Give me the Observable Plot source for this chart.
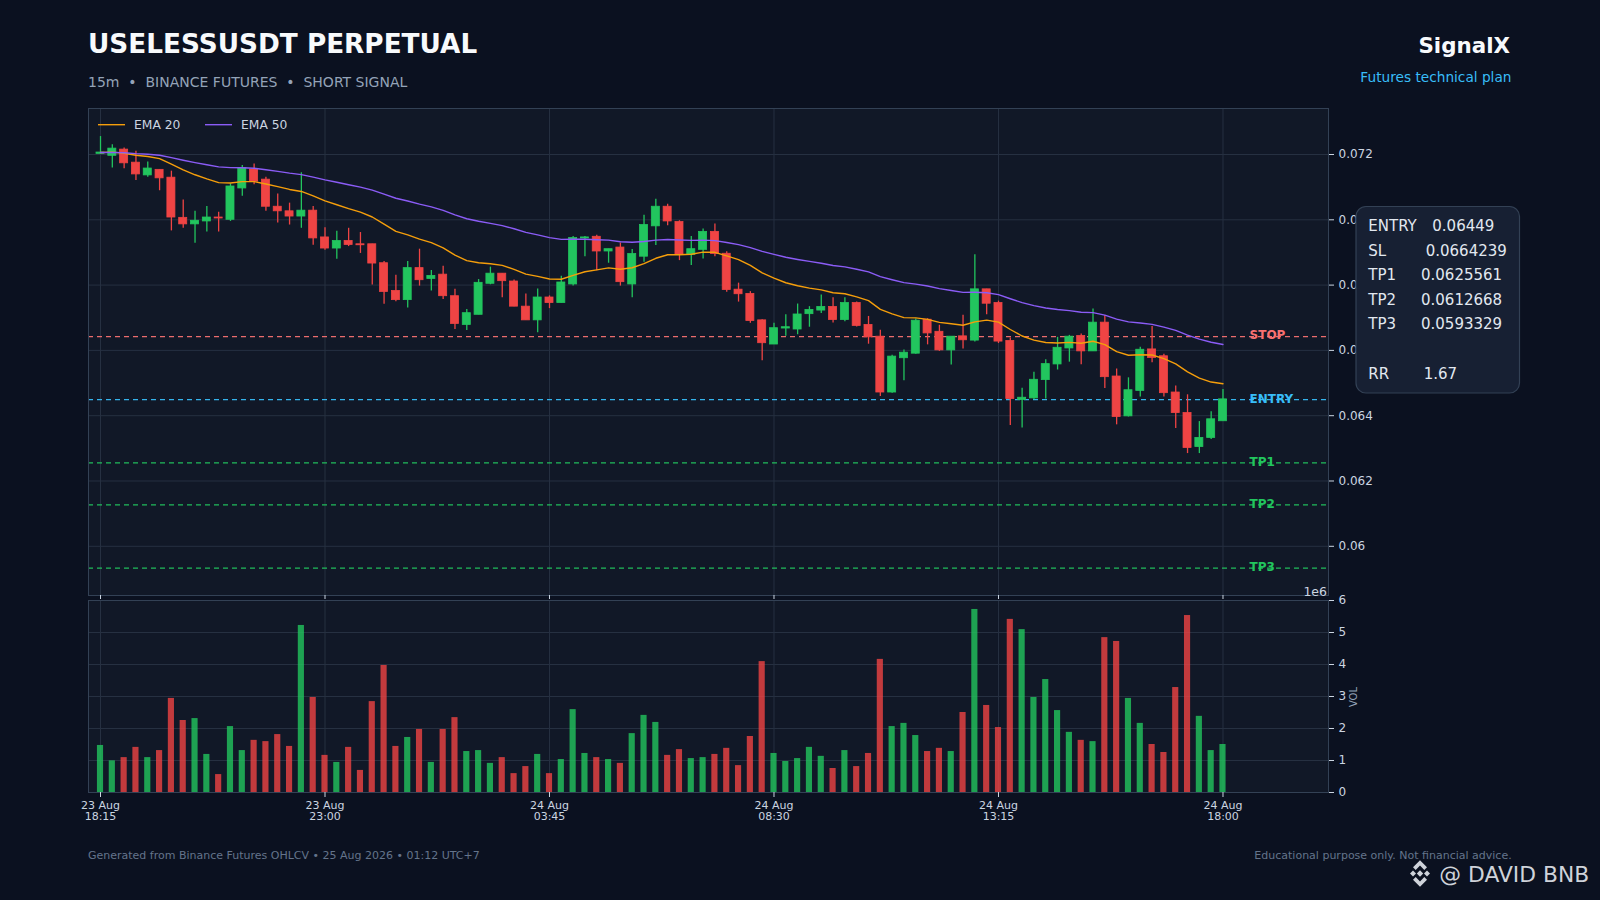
<!DOCTYPE html>
<html>
<head>
<meta charset="utf-8">
<script src="https://cdn.jsdelivr.net/npm/d3@7"></script>
<script src="https://cdn.jsdelivr.net/npm/@observablehq/plot@0.6"></script>
<style>
  html, body { margin: 0; padding: 0; background: #0b1120; }
  #page { position: relative; width: 1600px; height: 900px; background: #0b1120; overflow: hidden; font-family: "DejaVu Sans", sans-serif; }
  .layer { position: absolute; left: 0; }
  #overlay { position: absolute; left: 0; top: 0; pointer-events: none; }
</style>
</head>
<body>
<div id="page">
  <div id="price" class="layer" style="top:100px"></div>
  <div id="volume" class="layer" style="top:595px"></div>
  <svg id="overlay" width="1600" height="900" font-family="DejaVu Sans, sans-serif"></svg>
</div>
<script>
// ---- data ----
const opens  = [0.07202,0.07196,0.07215,0.07175,0.07136,0.07153,0.07129,0.07006,0.06986,0.06995,
                0.07007,0.07000,0.07096,0.07154,0.07123,0.07040,0.07026,0.07010,0.07028,0.06946,
                0.06912,0.06935,0.06925,0.06925,0.06867,0.06782,0.06754,0.06852,0.06819,0.06832,
                0.06766,0.06678,0.06709,0.06804,0.06835,0.06811,0.06734,0.06692,0.06762,0.06745,
                0.06802,0.06943,0.06948,0.06903,0.06915,0.06802,0.06887,0.06980,0.07040,0.06993,
                0.06892,0.06908,0.06963,0.06896,0.06786,0.06773,0.06692,0.06618,0.06667,0.06664,
                0.06711,0.06722,0.06733,0.06693,0.06745,0.06678,0.06642,0.06471,0.06576,0.06590,
                0.06694,0.06657,0.06600,0.06643,0.06630,0.06787,0.06745,0.06629,0.06448,0.06453,
                0.06509,0.06557,0.06606,0.06644,0.06597,0.06685,0.06520,0.06398,0.06476,0.06603,
                0.06582,0.06471,0.06408,0.06304,0.06332,0.06383];
const highs  = [0.07255,0.07230,0.07220,0.07210,0.07177,0.07153,0.07149,0.07061,0.07026,0.07041,
                0.07023,0.07110,0.07166,0.07171,0.07130,0.07079,0.07051,0.07144,0.07041,0.06976,
                0.06965,0.06974,0.06961,0.06925,0.06872,0.06830,0.06872,0.06910,0.06845,0.06858,
                0.06787,0.06725,0.06817,0.06855,0.06835,0.06816,0.06773,0.06788,0.06767,0.06827,
                0.06949,0.06949,0.06953,0.06910,0.06929,0.06909,0.07014,0.07063,0.07048,0.06997,
                0.06949,0.06972,0.06987,0.06902,0.06806,0.06780,0.06694,0.06683,0.06709,0.06742,
                0.06734,0.06770,0.06761,0.06761,0.06748,0.06704,0.06662,0.06585,0.06601,0.06696,
                0.06697,0.06677,0.06642,0.06708,0.06893,0.06787,0.06751,0.06638,0.06484,0.06533,
                0.06571,0.06640,0.06646,0.06650,0.06727,0.06707,0.06543,0.06516,0.06610,0.06673,
                0.06588,0.06491,0.06464,0.06382,0.06412,0.06480];
const lows   = [0.07200,0.07159,0.07156,0.07120,0.07130,0.07089,0.06966,0.06974,0.06928,0.06963,
                0.06963,0.06995,0.07072,0.07107,0.07026,0.06990,0.06984,0.06974,0.06922,0.06907,
                0.06879,0.06918,0.06897,0.06800,0.06741,0.06749,0.06730,0.06797,0.06782,0.06756,
                0.06664,0.06661,0.06709,0.06801,0.06761,0.06734,0.06692,0.06654,0.06728,0.06745,
                0.06797,0.06887,0.06844,0.06867,0.06797,0.06761,0.06870,0.06921,0.06982,0.06875,
                0.06860,0.06880,0.06887,0.06778,0.06748,0.06683,0.06568,0.06618,0.06643,0.06648,
                0.06671,0.06713,0.06684,0.06688,0.06672,0.06619,0.06459,0.06469,0.06507,0.06588,
                0.06617,0.06597,0.06555,0.06604,0.06626,0.06709,0.06621,0.06370,0.06362,0.06449,
                0.06451,0.06540,0.06564,0.06556,0.06597,0.06483,0.06372,0.06396,0.06457,0.06562,
                0.06457,0.06361,0.06284,0.06284,0.06327,0.06383];
const closes = [0.07206,0.07218,0.07173,0.07139,0.07157,0.07127,0.07007,0.06986,0.06997,0.07007,
                0.07004,0.07102,0.07158,0.07117,0.07040,0.07026,0.07010,0.07028,0.06943,0.06912,
                0.06935,0.06923,0.06922,0.06866,0.06779,0.06754,0.06852,0.06815,0.06828,0.06766,
                0.06681,0.06714,0.06807,0.06835,0.06812,0.06734,0.06692,0.06762,0.06745,0.06808,
                0.06944,0.06946,0.06903,0.06910,0.06809,0.06895,0.06984,0.07040,0.06995,0.06892,
                0.06910,0.06963,0.06895,0.06785,0.06772,0.06690,0.06622,0.06668,0.06671,0.06710,
                0.06724,0.06733,0.06693,0.06745,0.06675,0.06640,0.06471,0.06581,0.06593,0.06691,
                0.06652,0.06600,0.06642,0.06631,0.06787,0.06743,0.06627,0.06451,0.06455,0.06510,
                0.06558,0.06608,0.06642,0.06597,0.06685,0.06518,0.06396,0.06478,0.06602,0.06577,
                0.06469,0.06408,0.06301,0.06332,0.06389,0.06450];
// volume, in units of 1e6
const volumes = [1.47,0.99,1.09,1.41,1.09,1.31,2.94,2.25,2.31,1.19,
                 0.56,2.06,1.31,1.63,1.59,1.81,1.44,5.22,2.97,1.16,
                 0.94,1.41,0.69,2.84,3.97,1.44,1.72,1.97,0.94,1.97,
                 2.34,1.28,1.31,0.91,1.09,0.59,0.81,1.19,0.59,1.03,
                 2.59,1.22,1.09,1.03,0.91,1.84,2.41,2.19,1.16,1.34,
                 1.06,1.09,1.19,1.38,0.84,1.75,4.09,1.22,0.97,1.06,
                 1.41,1.13,0.75,1.31,0.81,1.22,4.16,2.06,2.16,1.78,
                 1.28,1.38,1.28,2.50,5.72,2.72,2.03,5.41,5.09,2.97,
                 3.53,2.56,1.88,1.63,1.59,4.84,4.72,2.94,2.16,1.50,
                 1.25,3.28,5.53,2.38,1.31,1.50];
const tickIdx    = [0, 19, 38, 57, 76, 95];
const tickLabels = ["23 Aug\n18:15","23 Aug\n23:00","24 Aug\n03:45","24 Aug\n08:30","24 Aug\n13:15","24 Aug\n18:00"];
const priceTicks = [0.060, 0.062, 0.064, 0.066, 0.068, 0.070, 0.072];
const volTicks   = [0, 1, 2, 3, 4, 5, 6];
const levelNames  = ["STOP", "ENTRY", "TP1", "TP2", "TP3"];
const levelValues = [0.0664239, 0.06449, 0.0625561, 0.0612668, 0.0593329];
const levelColors = ["#f87171", "#38bdf8", "#22c55e", "#22c55e", "#22c55e"];
const infoLabels = ["ENTRY", "SL", "TP1", "TP2", "TP3", "RR"];
const infoValues = ["0.06449", "0.0664239", "0.0625561", "0.0612668", "0.0593329", "1.67"];

// ---- derived ----
const UP = "#22c55e", DOWN = "#ef4444";
const candles = opens.map((o, i) => ({i, o, h: highs[i], l: lows[i], c: closes[i], v: volumes[i], up: closes[i] >= o}));
function ema(values, n) {
  const k = 2 / (n + 1); let prev; const out = [];
  values.forEach((v, i) => { prev = i === 0 ? v : v * k + prev * (1 - k); out.push({i, v: prev}); });
  return out;
}
const ema20 = ema(closes, 20), ema50 = ema(closes, 50);
const levels = levelNames.map((name, k) => ({name, value: levelValues[k], color: levelColors[k]}));
const xDomain = [-1.016, 103.93];
const style = "background:transparent;color:#cbd5e1;font-family:'DejaVu Sans',sans-serif;font-size:12px;overflow:visible;";
const grid = "#263041";

const price = Plot.plot({
  width: 1600, height: 500,
  marginTop: 8, marginBottom: 5, marginLeft: 88, marginRight: 272,
  style,
  x: {domain: xDomain, label: null},
  y: {domain: [0.058493, 0.073409], label: null},
  marks: [
    Plot.frame({fill: "#111827", stroke: null}),
    Plot.gridY(priceTicks, {stroke: grid, strokeOpacity: 1}),
    Plot.gridX(tickIdx, {stroke: grid, strokeOpacity: 1}),
    Plot.ruleY(levels, {y: "value", stroke: "color", strokeWidth: 1.3, strokeDasharray: "5,4", strokeOpacity: 0.95}),
    Plot.ruleX(candles, {x: "i", y1: "l", y2: "h", stroke: d => d.up ? UP : DOWN, strokeWidth: 1.3}),
    Plot.rect(candles, {x1: d => d.i - 0.34, x2: d => d.i + 0.34,
      y1: d => Math.min(d.o, d.c), y2: d => Math.max(d.o, d.c),
      fill: d => d.up ? UP : DOWN, stroke: d => d.up ? UP : DOWN, strokeWidth: 0.8}),
    Plot.line(ema20, {x: "i", y: "v", stroke: "#f59e0b", strokeWidth: 1.4}),
    Plot.line(ema50, {x: "i", y: "v", stroke: "#8b5cf6", strokeWidth: 1.4}),
    Plot.text(levels, {x: () => 97.25, y: "value", text: "name", fill: "color", textAnchor: "start",
      fontWeight: "bold", fontSize: 12, dy: -1}),
    Plot.frame({stroke: "#334155"}),
    Plot.axisY({anchor: "right", ticks: priceTicks, tickFormat: d => String(+d.toFixed(3)), tickSize: 5, tickPadding: 5, fontSize: 12, label: null}),
    Plot.axisX({anchor: "bottom", ticks: tickIdx, tickFormat: () => "", tickSize: 4, label: null})
  ]
});
document.getElementById("price").appendChild(price);

const volume = Plot.plot({
  width: 1600, height: 240,
  marginTop: 5, marginBottom: 43, marginLeft: 88, marginRight: 272,
  style,
  x: {domain: xDomain, label: null},
  y: {domain: [0, 6], label: null},
  marks: [
    Plot.frame({fill: "#111827", stroke: null}),
    Plot.gridY(volTicks, {stroke: grid, strokeOpacity: 1}),
    Plot.gridX(tickIdx, {stroke: grid, strokeOpacity: 1}),
    Plot.rect(candles, {x1: d => d.i - 0.26, x2: d => d.i + 0.26, y1: 0, y2: "v",
      fill: d => d.up ? UP : DOWN, fillOpacity: 0.8}),
    Plot.frame({stroke: "#334155"}),
    Plot.axisY({anchor: "right", ticks: volTicks, tickFormat: d => String(d), tickSize: 5, tickPadding: 5, fontSize: 12, label: null}),
    Plot.axisX({anchor: "bottom", ticks: tickIdx, tickFormat: d => tickLabels[tickIdx.indexOf(d)], tickSize: 5, tickPadding: 4, fontSize: 11, lineHeight: 1, label: null})
  ]
});
document.getElementById("volume").appendChild(volume);

// ---- overlay: titles, legend, info box, footer ----
const ov = d3.select("#overlay");
function txt(x, y, s, o = {}) {
  return ov.append("text").attr("x", x).attr("y", y).text(s)
    .attr("font-size", o.size || 12).attr("fill", o.fill || "#cbd5e1")
    .attr("font-weight", o.weight || "normal").attr("text-anchor", o.anchor || "start")
    .style("white-space", "pre").attr("xml:space", "preserve");
}
txt(88, 52.7, "USELESSUSDT PERPETUAL", {size: 26.3, weight: "bold", fill: "#f8fafc"});
txt(88, 86.7, "15m  \u2022  BINANCE FUTURES  \u2022  SHORT SIGNAL", {size: 14, fill: "#94a3b8"});
txt(1510, 53.3, "SignalX", {size: 21.4, weight: "bold", fill: "#f8fafc", anchor: "end"});
txt(1511.5, 82.3, "Futures technical plan", {size: 13.7, fill: "#38bdf8", anchor: "end"});

// legend
ov.append("line").attr("x1", 98).attr("x2", 125).attr("y1", 124.7).attr("y2", 124.7).attr("stroke", "#f59e0b").attr("stroke-width", 1.4);
txt(134, 129.3, "EMA 20", {size: 12.3, fill: "#cbd5e1"});
ov.append("line").attr("x1", 205).attr("x2", 232).attr("y1", 124.7).attr("y2", 124.7).attr("stroke", "#8b5cf6").attr("stroke-width", 1.4);
txt(241, 129.3, "EMA 50", {size: 12.3, fill: "#cbd5e1"});

// info box
ov.append("rect").attr("x", 1356).attr("y", 206.5).attr("width", 163.5).attr("height", 186.5)
  .attr("rx", 10).attr("fill", "#172033").attr("stroke", "#334155").attr("stroke-width", 1.2);
const infoBase = [230.7, 255.7, 280.3, 304.7, 329.3, 378.7];
const infoValX = [1432.3, 1425.7, 1421, 1421, 1421, 1423.7];
infoLabels.forEach((l, k) => {
  txt(1368.3, infoBase[k], l, {size: 15, fill: "#e2e8f0"});
  txt(infoValX[k], infoBase[k], infoValues[k], {size: 15, fill: "#e2e8f0"});
});

// volume axis extras
txt(1327, 596, "1e6", {size: 12.5, fill: "#cbd5e1", anchor: "end"});
ov.append("text").attr("transform", "translate(1357,697) rotate(-90)").attr("text-anchor", "middle")
  .attr("font-size", 10).attr("fill", "#94a3b8").text("VOL");

// footer
txt(88, 859.3, "Generated from Binance Futures OHLCV \u2022 25 Aug 2026 \u2022 01:12 UTC+7", {size: 11, fill: "#64748b"});
txt(1511.7, 859.3, "Educational purpose only. Not financial advice.", {size: 11, fill: "#64748b", anchor: "end"});

// watermark
const logo = ov.append("g").attr("transform", "translate(1420,873.5)").attr("fill", "#cfd3da");
logo.append("path").attr("d", "M0,-3.2 L3.2,0 L0,3.2 L-3.2,0 Z");
logo.append("path").attr("d", "M-10,0 L-7,-3 L-4,0 L-7,3 Z");
logo.append("path").attr("d", "M10,0 L7,-3 L4,0 L7,3 Z");
logo.append("path").attr("d", "M0,-13.3 L7,-6.3 L4.3,-3.6 L0,-7.9 L-4.3,-3.6 L-7,-6.3 Z");
logo.append("path").attr("d", "M0,13.3 L7,6.3 L4.3,3.6 L0,7.9 L-4.3,3.6 L-7,6.3 Z");
txt(1439.3, 881.7, "@ DAVID BNB", {size: 21.8, fill: "#cfd3da"});
</script>
</body>
</html>
